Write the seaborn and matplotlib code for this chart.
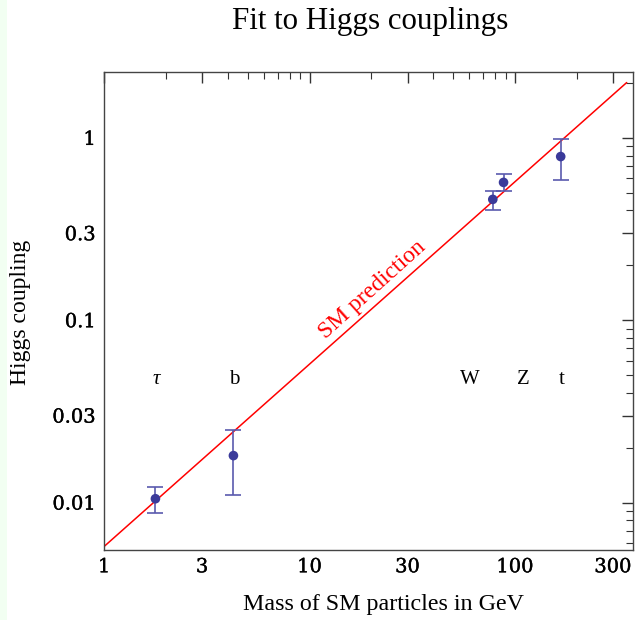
import matplotlib
matplotlib.use("Agg")
import matplotlib.pyplot as plt
import matplotlib.patheffects as pe
import seaborn as sns
import numpy as np
from matplotlib.ticker import FixedLocator, NullFormatter
from matplotlib.patches import Rectangle

sns.set_theme(style="white")
plt.rcParams['font.family'] = ['DejaVu Serif']

particles = ["τ", "b", "W", "Z", "t"]
label_x = [1.8, 4.3, 60, 110, 168]
masses = [1.777, 4.26, 78.0, 88.0, 167.0]
couplings = [0.0105, 0.0181, 0.46, 0.57, 0.79]
err_low = [0.0088, 0.0110, 0.40, 0.51, 0.59]
err_high = [0.0122, 0.0251, 0.51, 0.63, 0.98]
sm_x = [1.0, 350.0]
sm_y = [1.0 / 174.0, 350.0 / 174.0]

x_major = [1, 3, 10, 30, 100, 300]
x_major_labels = ["1", "3", "10", "30", "100", "300"]
y_major = [0.01, 0.03, 0.1, 0.3, 1]
y_major_labels = ["0.01", "0.03", "0.1", "0.3", "1"]

fig = plt.figure(figsize=(6.35, 6.2), dpi=100)
fig.patch.set_facecolor("white")
fig.patches.append(Rectangle((0, 0), 7 / 635, 1, transform=fig.transFigure,
                             facecolor="#f2fff2", edgecolor="none", zorder=0))
ax = fig.add_axes([0.164, 0.113, 0.833, 0.771])
ax.set_xscale("log")
ax.set_yscale("log")
ax.set_xlim(1, 376)
ax.set_ylim(0.0055, 2.3)

sns.lineplot(x=sm_x, y=sm_y, ax=ax, color="#ff0000", lw=1.1)

c = np.array(couplings)
yerr = [c - np.array(err_low), np.array(err_high) - c]
ax.errorbar(masses, couplings, yerr=yerr, fmt="none", ecolor="#5a5aae",
            elinewidth=1.2, capsize=6, capthick=1.2)
sns.scatterplot(x=masses, y=couplings, ax=ax, color="#3a3a9a", s=48,
                edgecolor="none", zorder=5)

for name, lx in zip(particles, label_x):
    ax.text(lx, 0.0475, name, fontsize=15, ha="center", va="center",
            family="Liberation Serif", style="italic" if name == "τ" else "normal",
            color="black")

ax.text(20.3, 0.146, "SM prediction", color="#ff0000", fontsize=17,
        family="Liberation Serif", ha="center", va="center",
        rotation=42, rotation_mode="anchor")

# ticks
xminor = [v * d for d in [1, 10, 100] for v in range(1, 10)]
xminor = [v for v in xminor if v not in x_major and v <= 376]
ax.xaxis.set_major_locator(FixedLocator(x_major))
ax.set_xticklabels(x_major_labels)
ax.xaxis.set_minor_locator(FixedLocator(xminor))
ax.xaxis.set_minor_formatter(NullFormatter())

yminor = [v * d for d in [0.001, 0.01, 0.1, 1] for v in range(1, 10)]
yminor = [v for v in yminor if 0.0055 <= v <= 2.3 and not any(abs(v - m) < 1e-9 for m in y_major)]
ax.yaxis.set_major_locator(FixedLocator(y_major))
ax.set_yticklabels(y_major_labels)
ax.yaxis.set_minor_locator(FixedLocator(yminor))
ax.yaxis.set_minor_formatter(NullFormatter())

ax.tick_params(which="both", direction="in", top=True, right=True, color="#333333",
               labelcolor="black")
ax.tick_params(which="major", length=8, width=1, labelsize=14, pad=6)
ax.tick_params(which="minor", length=5, width=0.8)
for lbl in ax.get_xticklabels() + ax.get_yticklabels():
    lbl.set_path_effects([pe.withStroke(linewidth=0.25, foreground="black")])
for sp in ax.spines.values():
    sp.set_color("#444444")
    sp.set_linewidth(1.0)

ax.set_xlabel("Mass of SM particles in GeV", fontsize=17.3, family="Liberation Serif",
              color="black")
ax.xaxis.set_label_coords(0.529, -0.115)
ax.set_ylabel("Higgs coupling", fontsize=17, family="Liberation Serif", color="black")
ax.yaxis.set_label_coords(-0.159, 0.498)
ax.xaxis.label.set_va("center")
ax.yaxis.label.set_va("center")
fig.text(0.583, 0.966, "Fit to Higgs couplings", fontsize=22.3, family="Liberation Serif",
         ha="center", va="center", color="black")

fig.savefig("out.png", dpi=100)
